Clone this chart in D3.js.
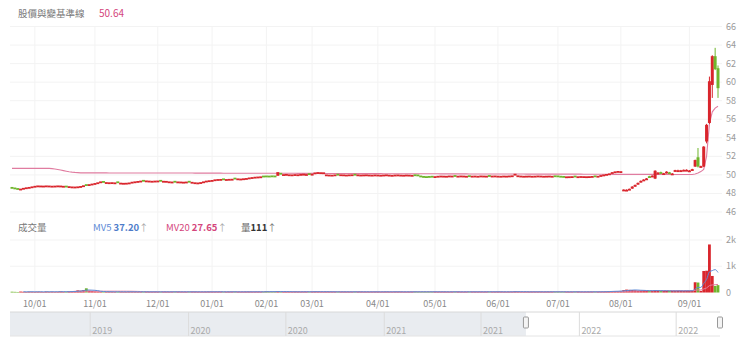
<!DOCTYPE html>
<html>
<head>
<meta charset="utf-8">
<script src="https://cdn.jsdelivr.net/npm/d3@7"></script>
<style>
  body { margin: 0; background: #fff; font-family: "Noto Sans CJK TC", "Noto Sans", sans-serif; }
</style>
</head>
<body>
<div id="chart"></div>
<script>
// daily candles Sep 2021 - Jul 2022 (open / close only)
const earlyOpen = [
  48.70, 48.64, 48.58, 48.48,
  48.50, 48.55, 48.62, 48.66, 48.70,
  48.74, 48.72, 48.74, 48.72, 48.74, 48.72, 48.70, 48.74, 48.72, 48.70, 48.84,
  48.66, 48.64, 48.62, 48.64, 48.68,
  48.76, 49.00, 48.90, 48.94, 49.00, 49.08,
  49.16, 49.34,
  49.10, 49.08, 49.10, 49.08, 49.30,
  49.04, 49.02, 49.04, 49.06,
  49.14, 49.20, 49.22,
  49.26, 49.46, 49.28, 49.26, 49.24, 49.26, 49.28, 49.46, 49.24, 49.24,
  49.18, 49.16, 49.36, 49.18, 49.16, 49.14, 49.16, 49.36, 49.14,
  49.06, 49.04, 49.10, 49.18,
  49.26, 49.30, 49.34,
  49.40, 49.44, 49.44, 49.62, 49.44, 49.46, 49.46,
  49.70, 49.50, 49.50, 49.52, 49.54,
  49.60, 49.66, 49.70, 49.72, 49.74,
  49.92, 49.93, 49.92, 49.94, 49.93,
  49.90,
  50.22, 49.98, 49.98, 49.96, 49.94, 49.96, 49.96,
  49.98, 50.00, 49.98, 50.18, 50.00,
  50.14, 50.18, 50.16, 50.16,
  49.94, 49.92, 49.92,
  49.94, 50.12, 49.94, 49.94, 49.92, 49.94, 49.94, 50.12, 49.94, 49.92, 49.92, 49.94, 49.92,
  49.92, 49.92, 49.92, 49.90, 49.92, 49.94, 49.92, 49.90, 49.92, 49.94, 49.90, 49.90, 49.92, 49.92, 49.90, 50.06, 50.04,
  49.93, 49.88, 49.86, 49.88, 49.90, 49.76,
  49.80, 49.82, 49.80, 49.80, 49.82, 49.82, 49.98, 49.80, 49.82, 49.82, 49.80, 49.96, 49.80, 49.82, 49.80, 49.82, 49.82, 49.80, 49.98, 49.82, 49.82, 49.80, 49.80, 49.82, 49.80, 49.82, 49.84,
  49.96,
  49.84, 49.82, 49.80, 49.80, 49.82, 49.80, 49.80, 49.82, 49.82, 49.80, 49.80, 49.82, 49.80, 49.95, 49.94,
  49.90, 49.88,
  49.74, 49.74, 49.76, 49.92, 49.74, 49.76, 49.76, 49.74, 49.76, 49.78, 49.94, 49.80,
  49.88, 49.94, 50.00, 50.06,
  50.20, 50.28, 50.32, 50.30
];
const earlyClose = [
  48.62, 48.55, 48.50, 48.52,
  48.60, 48.66, 48.70, 48.76, 48.82,
  48.86, 48.85, 48.84, 48.86, 48.85, 48.83, 48.84, 48.86, 48.85, 48.82, 48.80,
  48.78, 48.75, 48.74, 48.76, 48.80,
  48.88, 48.95, 49.00, 49.06, 49.12, 49.20,
  49.30, 49.28,
  49.22, 49.20, 49.21, 49.19, 49.20,
  49.16, 49.14, 49.15, 49.18,
  49.26, 49.30, 49.34,
  49.38, 49.37, 49.40, 49.38, 49.36, 49.38, 49.39, 49.37, 49.36, 49.35,
  49.30, 49.28, 49.27, 49.29, 49.28, 49.26, 49.28, 49.27, 49.25,
  49.20, 49.18, 49.22, 49.30,
  49.38, 49.42, 49.45,
  49.52, 49.55, 49.56, 49.54, 49.55, 49.57, 49.58,
  49.60, 49.62, 49.60, 49.63, 49.66,
  49.72, 49.76, 49.80, 49.82, 49.84,
  49.85, 49.86, 49.85, 49.87, 49.86,
  50.30,
  50.12, 50.08, 50.10, 50.06, 50.05, 50.08, 50.06,
  50.10, 50.12, 50.09, 50.10, 50.12,
  50.26, 50.30, 50.28, 50.27,
  50.05, 50.03, 50.02,
  50.05, 50.04, 50.06, 50.05, 50.03, 50.05, 50.06, 50.04, 50.05, 50.03, 50.04, 50.05, 50.03,
  50.02, 50.04, 50.03, 50.01, 50.03, 50.05, 50.02, 50.00, 50.03, 50.04, 50.02, 50.01, 50.03, 50.02, 50.00, 49.98, 49.95,
  49.85, 49.80, 49.78, 49.80, 49.82, 49.86,
  49.90, 49.92, 49.91, 49.90, 49.93, 49.92, 49.90, 49.91, 49.93, 49.92, 49.90, 49.89, 49.91, 49.92, 49.90, 49.93, 49.92, 49.91, 49.90, 49.92, 49.93, 49.91, 49.90, 49.92, 49.91, 49.93, 49.95,
  50.12,
  49.95, 49.92, 49.90, 49.91, 49.92, 49.90, 49.91, 49.93, 49.92, 49.90, 49.91, 49.92, 49.90, 49.88, 49.87,
  49.82, 49.80,
  49.84, 49.85, 49.86, 49.84, 49.85, 49.87, 49.86, 49.85, 49.86, 49.88, 49.87, 49.90,
  49.98, 50.04, 50.10, 50.16,
  50.30, 50.38, 50.42, 50.40
];

// Aug - Sep 2022 full OHLC
const tailOpen  = [48.36, 48.36, 48.40, 48.52, 48.74, 48.96, 49.20, 49.36, 49.52, 49.86, 49.80, 49.60, 50.10, 50.30, 50.05, 50.18, 50.28, 50.05,
                   50.38, 50.40, 50.42, 50.42, 50.45, 50.40, 50.50, 50.90, 51.90, 50.85, 50.90, 53.60, 55.60, 59.70, 62.80, 61.50];
const tailHigh  = [48.44, 48.44, 48.52, 48.78, 48.96, 49.18, 49.40, 49.54, 49.66, 49.90, 49.96, 50.50, 50.30, 50.35, 50.22, 50.40, 50.32, 50.20,
                   50.55, 50.56, 50.54, 50.58, 50.60, 50.52, 50.66, 51.65, 52.90, 51.00, 53.10, 55.50, 60.60, 62.90, 63.70, 61.80];
const tailLow   = [48.34, 48.34, 48.38, 48.50, 48.72, 48.94, 49.18, 49.34, 49.50, 49.72, 49.78, 49.55, 50.05, 50.15, 50.02, 50.15, 50.10, 50.02,
                   50.35, 50.38, 50.40, 50.40, 50.42, 50.38, 50.48, 50.85, 50.80, 50.80, 50.85, 53.40, 55.50, 58.30, 61.30, 58.30];
const tailClose = [48.42, 48.40, 48.50, 48.74, 48.92, 49.14, 49.36, 49.50, 49.62, 49.78, 49.92, 50.45, 50.25, 50.20, 50.18, 50.35, 50.14, 50.15,
                   50.52, 50.50, 50.50, 50.55, 50.55, 50.48, 50.62, 51.60, 50.90, 50.95, 53.05, 55.40, 60.10, 62.80, 61.40, 59.35];

// baseline (pink line)
const baseline = [
  50.70, 50.70, 50.70, 50.70, 50.70, 50.70, 50.70, 50.70, 50.70, 50.70, 50.70, 50.70, 50.70, 50.70,
  50.68, 50.64, 50.58, 50.52, 50.46, 50.40, 50.34, 50.30, 50.27, 50.25,
  50.22, 50.22, 50.22, 50.22, 50.22, 50.22, 50.22, 50.22, 50.22, 50.22,
  50.21, 50.21, 50.21, 50.21, 50.21, 50.21, 50.21, 50.21, 50.21, 50.21,
  50.20, 50.20, 50.20, 50.20, 50.20, 50.20, 50.20, 50.20, 50.20, 50.20,
  50.20, 50.20, 50.20, 50.20, 50.20, 50.20, 50.20, 50.20, 50.20, 50.20,
  50.19, 50.19, 50.19, 50.19, 50.19, 50.19, 50.19, 50.19, 50.19, 50.19,
  50.18, 50.18, 50.18, 50.18, 50.18, 50.18, 50.18, 50.18, 50.18, 50.18,
  50.18, 50.18, 50.18, 50.18, 50.18, 50.18, 50.18, 50.18, 50.18, 50.18,
  50.17, 50.17, 50.17, 50.17, 50.17, 50.17,
  50.16, 50.16, 50.16, 50.16, 50.16, 50.16, 50.16, 50.16, 50.16, 50.16,
  50.15, 50.15, 50.15, 50.15, 50.15, 50.15, 50.15, 50.15, 50.15, 50.15,
  50.14, 50.14, 50.14, 50.14, 50.14, 50.14, 50.14, 50.14, 50.14, 50.14,
  50.13, 50.13, 50.13, 50.13, 50.13, 50.13, 50.13, 50.13, 50.13, 50.13,
  50.12, 50.12, 50.12, 50.12, 50.12, 50.12, 50.12, 50.12, 50.12, 50.12,
  50.11, 50.11, 50.11, 50.11, 50.11, 50.11, 50.11, 50.11, 50.11, 50.11,
  50.10, 50.10, 50.10, 50.10, 50.10, 50.10, 50.10, 50.10, 50.10, 50.10,
  50.09, 50.09, 50.09, 50.09, 50.09, 50.09, 50.09, 50.09, 50.09, 50.09,
  50.08, 50.08, 50.08, 50.08, 50.08, 50.08, 50.08, 50.08, 50.08, 50.08,
  50.08, 50.08, 50.08, 50.08, 50.08, 50.08, 50.08, 50.08, 50.08, 50.08,
  50.07, 50.07, 50.07, 50.07, 50.07, 50.07, 50.07, 50.07, 50.07, 50.07,
  50.06, 50.06, 50.06, 50.06, 50.06, 50.06, 50.06, 50.06, 50.06, 50.06,
  50.06, 50.06, 50.06, 50.06, 50.06, 50.06, 50.06, 50.06, 50.06, 50.06,
  50.05, 50.05, 50.05, 50.05, 50.05, 50.05, 50.05, 50.05, 50.05,
  50.10, 50.20, 50.36, 50.60, 52.00, 55.50, 56.80, 57.20, 57.40
];

const volume = [
  30, 25, 20, 35, 28, 22, 30, 26,
  24, 30, 28, 22, 35, 26, 30, 25, 28, 40, 32, 26, 30, 45, 60, 80, 70, 90, 160, 70, 55,
  40, 35, 30, 28, 26, 30, 25, 22, 28, 30, 26, 24, 30, 28, 25, 22, 26, 30, 28, 24, 22, 26,
  24, 28, 30, 26, 22, 25, 28, 30, 26, 24, 22, 28, 30, 26, 24, 22, 25, 28, 30,
  26, 24, 28, 30, 25, 22, 26, 28, 30, 24, 22, 26, 28, 30, 25, 24, 28, 26, 30,
  45, 30, 28, 26, 50, 35, 30, 28, 26, 24, 30, 28, 26, 30, 28, 25,
  30, 35, 32, 28, 26, 30, 28, 25, 22, 26, 28, 30, 26, 24, 22, 26, 28, 30, 25, 24, 22, 26, 28,
  26, 24, 28, 30, 25, 22, 26, 28, 30, 24, 22, 26, 28, 30, 25, 24, 28, 26, 30, 28,
  26, 24, 28, 30, 25, 22, 26, 28, 30, 24, 22, 26, 28, 30, 25, 24, 28, 26, 30, 28, 26, 24,
  28, 30, 25, 22, 26, 28, 45, 30, 24, 22, 26, 28, 30, 25, 24, 28, 26, 30, 28, 26, 24,
  26, 28, 30, 25, 22, 26, 28, 30, 24, 22, 26, 28, 30, 25, 24, 30, 35, 40, 45, 50, 55, 50,
  60, 90, 110, 100, 95, 85, 70, 75, 80, 70, 65, 60, 90, 70, 60, 55, 60, 65, 60, 55, 60, 65, 60, 70, 65, 75,
  390, 380, 60, 820, 830, 1830, 630, 250, 280
];

const priceTicks = [46, 48, 50, 52, 54, 56, 58, 60, 62, 64, 66];
const volTicks = [0, 1000, 2000];
const volTickLabels = ["0", "1k", "2k"];
const monthLabels = ["10/01", "11/01", "12/01", "01/01", "02/01", "03/01", "04/01", "05/01", "06/01", "07/01", "08/01", "09/01"];
const monthIdx = [8, 29, 51, 70, 89, 105, 128, 148, 170, 191, 213, 237];
const navTickDates = ["2019-07-01", "2020-01-01", "2020-07-01", "2021-01-01", "2021-07-01", "2022-01-01", "2022-07-01"];
const navLabels = ["2019", "2020", "2020", "2021", "2021", "2022", "2022"];
const navDomain = ["2019-02-01", "2022-09-21"];
const navWindow = ["2021-09-23", "2022-09-21"];

const UP = "#d9252c", DOWN = "#6fb52c", PINK = "#e07ca0", BLUE = "#5d8ad6";

const candles = earlyClose.map((c, i) => ({ i, o: earlyOpen[i], c, h: null, l: null }))
  .concat(tailClose.map((c, j) => ({
    i: earlyClose.length + j, o: tailOpen[j], h: tailHigh[j], l: tailLow[j], c
  })));
const N = candles.length;

const svg = d3.select("#chart").append("svg")
  .attr("width", 740)
  .attr("height", 352);

const x = d3.scaleLinear().domain([0, N - 1]).range([12, 718]);
const yP = d3.scaleLinear().domain([46, 66]).range([212, 26.5]);
const yV = d3.scaleLinear().domain([0, 2000]).range([292.5, 240]);

// grid
svg.append("g")
  .selectAll("line")
  .data(priceTicks)
  .join("line")
    .attr("x1", 10).attr("x2", 722)
    .attr("y1", d => yP(d)).attr("y2", d => yP(d))
    .style("stroke", "#f3f3f3");

svg.append("g")
  .selectAll("line")
  .data(volTicks.slice(1))
  .join("line")
    .attr("x1", 10).attr("x2", 722)
    .attr("y1", d => yV(d)).attr("y2", d => yV(d))
    .style("stroke", "#f3f3f3");

svg.append("g")
  .selectAll("line")
  .data(monthIdx)
  .join("line")
    .attr("x1", d => x(d)).attr("x2", d => x(d))
    .attr("y1", 27).attr("y2", 293)
    .style("stroke", "#f3f3f3");

// axis labels
svg.append("g")
  .selectAll("text")
  .data(priceTicks)
  .join("text")
    .attr("x", 726).attr("y", d => yP(d) + 3)
    .style("font-size", "9px").style("fill", "#9a9a9a")
    .text(d => d);

svg.append("g")
  .selectAll("text")
  .data(volTicks)
  .join("text")
    .attr("x", 726).attr("y", d => yV(d) + 3)
    .style("font-size", "9px").style("fill", "#9a9a9a")
    .text((d, i) => volTickLabels[i]);

svg.append("g")
  .selectAll("text")
  .data(monthIdx)
  .join("text")
    .attr("x", d => x(d)).attr("y", 307)
    .attr("text-anchor", "middle")
    .style("font-size", "9px").style("fill", "#888")
    .text((d, i) => monthLabels[i]);

// baseline
svg.append("path")
  .datum(baseline)
  .attr("d", d3.line().x((d, i) => x(i)).y(d => yP(d)))
  .style("fill", "none")
  .style("stroke", PINK)
  .style("stroke-width", 1.1);

// candles
const cg = svg.append("g");
cg.selectAll("line")
  .data(candles.filter(d => d.h != null))
  .join("line")
    .attr("x1", d => x(d.i)).attr("x2", d => x(d.i))
    .attr("y1", d => yP(d.h)).attr("y2", d => yP(d.l))
    .style("stroke", d => d.c >= d.o ? UP : DOWN);
cg.selectAll("rect")
  .data(candles)
  .join("rect")
    .attr("x", d => x(d.i) - 1.5)
    .attr("width", 3)
    .attr("y", d => yP(Math.max(d.o, d.c)))
    .attr("height", d => Math.max(1.8, Math.abs(yP(d.o) - yP(d.c))))
    .style("fill", d => d.c >= d.o ? UP : DOWN);

// volume bars
svg.append("g")
  .selectAll("rect")
  .data(volume)
  .join("rect")
    .attr("x", (d, i) => x(i) - 1.4)
    .attr("width", 2.8)
    .attr("y", d => yV(d))
    .attr("height", d => yV(0) - yV(d))
    .style("fill", (d, i) => candles[i].c >= candles[i].o ? UP : DOWN);

// volume moving averages
function movingAvg(arr, n) {
  return arr.map((v, i) => i < n - 1 ? null : d3.mean(arr.slice(i - n + 1, i + 1)));
}
[[movingAvg(volume, 20), PINK], [movingAvg(volume, 5), BLUE]].forEach(([ma, col]) => {
  svg.append("path")
    .datum(ma)
    .attr("d", d3.line().defined(d => d != null).curve(d3.curveMonotoneX)
      .x((d, i) => x(i)).y(d => yV(d)))
    .style("fill", "none")
    .style("stroke", col)
    .style("stroke-width", 1);
});

// headers
svg.append("text").attr("x", 18).attr("y", 17)
  .style("font-size", "9.5px").style("fill", "#777").text("股價與變基準線");
svg.append("text").attr("x", 99).attr("y", 17)
  .style("font-size", "10px").style("fill", "#d4467c").text("50.64");

const vh = svg.append("text").attr("x", 18).attr("y", 231).style("font-size", "9.5px");
vh.append("tspan").style("fill", "#777").text("成交量");
vh.append("tspan").attr("x", 93).style("fill", BLUE).text("MV5 ");
vh.append("tspan").style("fill", "#4d7cc9").style("font-weight", "bold").text("37.20");
vh.append("tspan").style("fill", "#aaa").text("↑");
vh.append("tspan").attr("x", 166).style("fill", "#d4467c").text("MV20 ");
vh.append("tspan").style("fill", "#d4467c").style("font-weight", "bold").text("27.65");
vh.append("tspan").style("fill", "#aaa").text("↑");
vh.append("tspan").attr("x", 241).style("fill", "#666").text("量");
vh.append("tspan").style("fill", "#333").style("font-weight", "bold").text("111");
vh.append("tspan").style("fill", "#777").text("↑");

// navigator
const parse = d3.timeParse("%Y-%m-%d");
const nx = d3.scaleTime().domain(navDomain.map(parse)).range([10, 720]);
const nav = svg.append("g");
nav.append("rect")
  .attr("x", 10).attr("y", 312)
  .attr("width", nx(parse(navWindow[0])) - 10).attr("height", 24)
  .style("fill", "#e9ecf0");
nav.append("line").attr("x1", 10).attr("x2", 720).attr("y1", 312).attr("y2", 312).style("stroke", "#d8d8d8");
nav.append("line").attr("x1", 10).attr("x2", 720).attr("y1", 336).attr("y2", 336).style("stroke", "#e4e4e4");
nav.selectAll(".tick")
  .data(navTickDates)
  .join("line")
    .attr("x1", d => nx(parse(d))).attr("x2", d => nx(parse(d)))
    .attr("y1", 312).attr("y2", 336)
    .style("stroke", "#dcdcdc");
nav.selectAll("text")
  .data(navTickDates)
  .join("text")
    .attr("x", d => nx(parse(d)) + 2).attr("y", 334)
    .style("font-size", "9px").style("fill", "#aaa")
    .text((d, i) => navLabels[i]);
nav.selectAll(".handle")
  .data(navWindow)
  .join("rect")
    .attr("x", d => nx(parse(d)) - 2.5).attr("y", 317)
    .attr("width", 5).attr("height", 11).attr("rx", 1)
    .style("fill", "#f4f4f4").style("stroke", "#999");
</script>
</body>
</html>
